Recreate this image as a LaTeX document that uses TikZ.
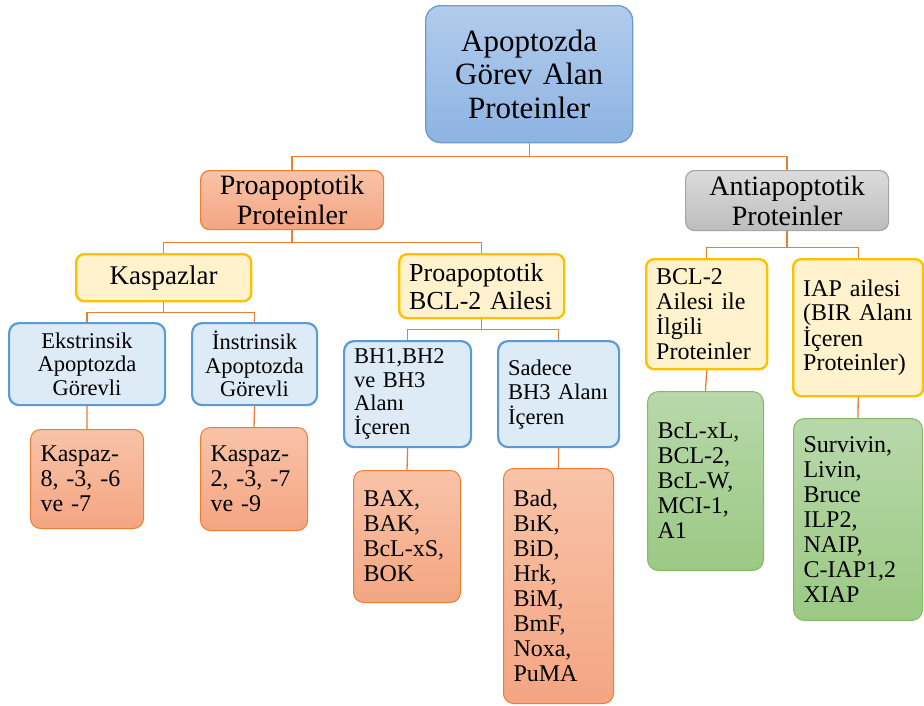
\documentclass[tikz,border=0pt]{standalone}
\usepackage{fontspec}
\setmainfont{Liberation Serif}

\definecolor{linkorange}{HTML}{ED7D31}
\definecolor{rootedge}{HTML}{6A9BD3}
\definecolor{roottop}{HTML}{B1CCEC}
\definecolor{rootbot}{HTML}{8EB3E2}
\definecolor{protop}{HTML}{F8C3A8}
\definecolor{probot}{HTML}{F4A582}
\definecolor{graytop}{HTML}{DCDCDC}
\definecolor{graybot}{HTML}{BDBDBD}
\definecolor{grayedge}{HTML}{A5A5A5}
\definecolor{yelfill}{HTML}{FFF2CC}
\definecolor{yeledge}{HTML}{FFC000}
\definecolor{bluefill}{HTML}{DDEBF7}
\definecolor{blueedge}{HTML}{5B9BD5}
\definecolor{greentop}{HTML}{B8D8AA}
\definecolor{greenbot}{HTML}{9BC984}
\definecolor{greenedge}{HTML}{82B965}

\begin{document}
\begin{tikzpicture}[x=1pt, y=-1pt,
        every node/.style={anchor=north west, inner xsep=10pt, inner ysep=0pt},
        rootbox/.style={draw=rootedge, line width=1.3pt, top color=roottop, bottom color=rootbot, rounded corners=15pt, align=center},
        probox/.style={draw=linkorange, line width=1.2pt, top color=protop, bottom color=probot, rounded corners=9pt},
        antibox/.style={draw=grayedge, line width=1.2pt, top color=graytop, bottom color=graybot, rounded corners=9pt, align=center},
        yelbox/.style={draw=yeledge, line width=2.4pt, fill=yelfill, rounded corners=8pt},
        bluebox/.style={draw=blueedge, line width=2.2pt, fill=bluefill, rounded corners=10pt},
        leafbox/.style={draw=linkorange, line width=1pt, top color=protop, bottom color=probot, rounded corners=10pt, align=left, font=\fontsize{24}{25}\selectfont},
        greenbox/.style={draw=greenedge, line width=1pt, top color=greentop, bottom color=greenbot, rounded corners=11pt, align=left, font=\fontsize{24}{25}\selectfont},
        link/.style={draw=linkorange, line width=1.3pt}]
        \useasboundingbox (0,0) rectangle (924,705);

        % top level
        \node[rootbox, text width=187pt, minimum height=137pt, font=\fontsize{31}{33.5}\selectfont] (root) at (425,5) {Apoptozda\\Görev Alan\\Proteinler};

        \node[probox, align=center, text width=163pt, minimum height=59pt, font=\fontsize{28}{30}\selectfont] (pro) at (200,170) {Proapoptotik\\Proteinler};
        \node[antibox, text width=183pt, minimum height=60pt, font=\fontsize{28}{30}\selectfont] (anti) at (685,170) {Antiapoptotik\\Proteinler};

        % yellow groups
        \node[yelbox, align=center, text width=155pt, minimum height=47pt, font=\fontsize{27}{28}\selectfont] (kasp) at (75,253) {Kaspazlar};
        \node[yelbox, align=left, inner xsep=8pt, text width=149pt, minimum height=64pt, font=\fontsize{26}{28}\selectfont] (bcl) at (398,253) {\hspace{2pt}Proapoptotik\\\hspace{2pt}BCL-2 Ailesi};
        \node[yelbox, align=left, text width=101pt, minimum height=110pt, font=\fontsize{24}{24.7}\selectfont] (bclil) at (645,258) {BCL-2\\Ailesi ile\\İlgili\\Proteinler};
        \node[yelbox, align=left, text width=110pt, minimum height=137pt, font=\fontsize{24}{24.5}\selectfont] (iap) at (792,258) {IAP ailesi\\(BIR Alanı\\İçeren\\Proteinler)};

        % blue groups
        \node[bluebox, align=center, text width=136pt, minimum height=82pt, font=\fontsize{22.5}{23.5}\selectfont] (ekst) at (8,322) {Ekstrinsik\\Apoptozda\\Görevli};
        \node[bluebox, align=center, text width=105pt, minimum height=82pt, font=\fontsize{22.5}{23.5}\selectfont] (inst) at (191,322) {İnstrinsik\\Apoptozda\\Görevli};
        \node[bluebox, align=left, text width=107pt, minimum height=106pt, font=\fontsize{22.5}{23.5}\selectfont] (bhall) at (343,340) {BH1,BH2\\ve BH3\\Alanı\\İçeren};
        \node[bluebox, align=left, text width=101pt, minimum height=106pt, font=\fontsize{22.5}{24.5}\selectfont] (bhtre) at (497,340) {Sadece\\BH3 Alanı\\İçeren};

        % leaves
        \node[leafbox, text width=93pt, minimum height=99pt] (kaspa) at (30,429) {Kaspaz-\\8, -3, -6\\ve -7};
        \node[leafbox, text width=87pt, minimum height=103pt] (kaspb) at (200,427) {Kaspaz-\\2, -3, -7\\ve -9};
        \node[leafbox, text width=87pt, minimum height=132pt] (bax) at (353,470) {BAX,\\BAK,\\BcL-xS,\\BOK};
        \node[leafbox, text width=90pt, minimum height=235pt] (bad) at (503,468) {Bad,\\BıK,\\BiD,\\Hrk,\\BiM,\\BmF,\\Noxa,\\PuMA};
        \node[greenbox, text width=96pt, minimum height=179pt] (bclxl) at (647,391) {BcL-xL,\\BCL-2,\\BcL-W,\\MCI-1,\\A1};
        \node[greenbox, text width=109pt, minimum height=202pt] (surv) at (793,418) {Survivin,\\Livin,\\Bruce\\ILP2,\\NAIP,\\C-IAP1,2\\XIAP};

        % connectors
        \draw[link] (root.south) -- ++(0,13) -| (pro.north);
        \draw[link] (root.south) -- ++(0,13) -| (anti.north);
        \draw[link] (pro.south) -- ++(0,12) -| (kasp.north);
        \draw[link] (pro.south) -- ++(0,12) -| (bcl.north);
        \draw[link] (anti.south) -- ++(0,16) -| (bclil.north);
        \draw[link] (anti.south) -- ++(0,16) -| (iap.north);
        \draw[link] (kasp.south) -- ++(0,10) -| (ekst.north);
        \draw[link] (kasp.south) -- ++(0,10) -| (inst.north);
        \draw[link] (bcl.south) -- ++(0,10) -| (bhall.north);
        \draw[link] (bcl.south) -- ++(0,10) -| (bhtre.north);
        \draw[link] (ekst.south) -- (kaspa.north);
        \draw[link] (inst.south) -- (kaspb.north);
        \draw[link] (bhall.south) -- (bax.north);
        \draw[link] (bhtre.south) -- (bad.north);
        \draw[link] (bclil.south) -- (bclxl.north);
        \draw[link] (iap.south) -- (surv.north);
    \end{tikzpicture}
\end{document}
